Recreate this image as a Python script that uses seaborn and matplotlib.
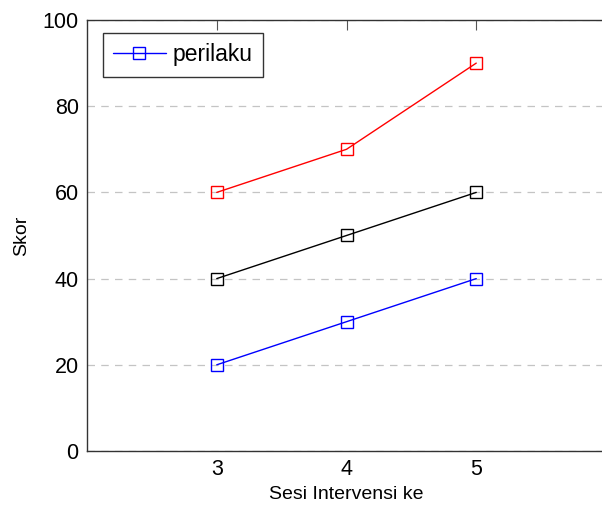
import pandas as pd
import matplotlib
matplotlib.use("Agg")
import matplotlib.pyplot as plt
import seaborn as sns

sesi = [3, 4, 5]
perilaku = [20, 30, 40]
seri_hitam = [40, 50, 60]
seri_merah = [60, 70, 90]

sns.set_theme(style="white")
plt.rcParams['font.family'] = ['Liberation Sans', 'DejaVu Sans']
plt.rcParams['text.color'] = 'black'
plt.rcParams['axes.labelcolor'] = 'black'
plt.rcParams['xtick.color'] = 'black'
plt.rcParams['ytick.color'] = 'black'

fig = plt.figure(figsize=(6.02, 5.08), dpi=100)
ax = fig.add_axes([87 / 602, 1 - 451 / 508, 519 / 602, 431 / 508])

# only the blue series has a legend entry
series = [
    (perilaku, 'blue', 'perilaku'),
    (seri_hitam, 'black', None),
    (seri_merah, 'red', None),
]
for vals, col, lab in series:
    df = pd.DataFrame({'Sesi': sesi, 'Skor': vals})
    sns.lineplot(data=df, x='Sesi', y='Skor', ax=ax, color=col, marker='s',
                 markersize=8, markerfacecolor='none', markeredgecolor=col,
                 markeredgewidth=1, linewidth=1, label=lab, legend=False)

ax.set_xlim(2, 6)
ax.set_ylim(0, 100)
ax.set_xticks(sesi)
ax.set_yticks([0, 20, 40, 60, 80, 100])
ax.yaxis.grid(True, linestyle=(0, (6, 5)), color='#c4c4c4', linewidth=0.9)
ax.xaxis.grid(False)
ax.tick_params(axis='both', direction='in', length=7, width=0.8,
               labelsize=15.5, top=True, right=False, pad=6)
ax.tick_params(axis='both', which='major', color='#555555', labelcolor='black')
for s in ax.spines.values():
    s.set_color('#333333')
    s.set_linewidth(1.0)

ax.set_xlabel('Sesi Intervensi ke', fontsize=14, labelpad=4)
ax.set_ylabel('Skor', fontsize=14, labelpad=9)

leg = ax.legend(loc='upper left', fontsize=16.5, frameon=True, fancybox=False,
                edgecolor='#333333', framealpha=1, borderpad=0.45,
                handlelength=2.3, handletextpad=0.3,
                bbox_to_anchor=(0.03, 0.97), borderaxespad=0.0)
leg.get_frame().set_linewidth(1.0)

fig.savefig('out.png', dpi=100)
